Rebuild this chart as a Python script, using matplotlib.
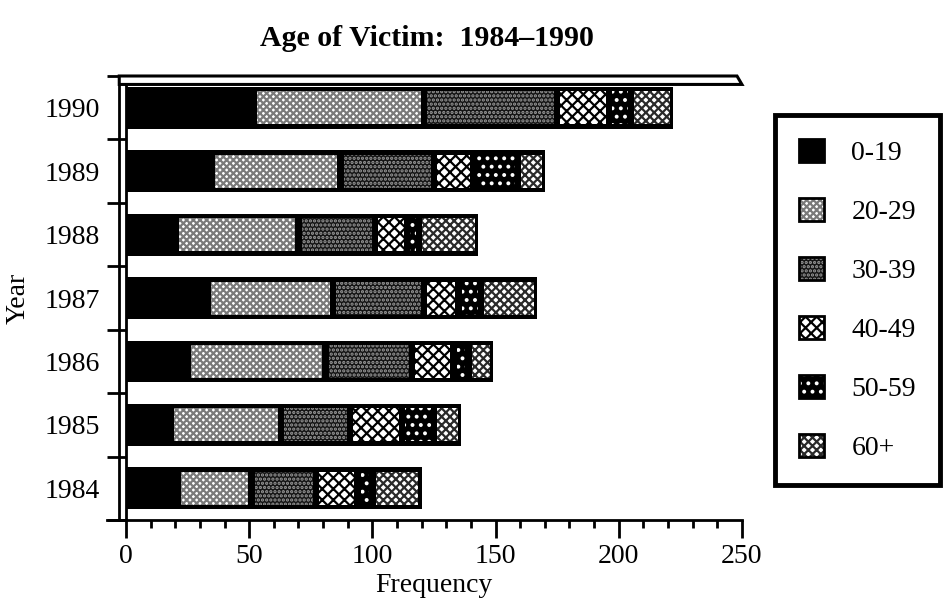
import numpy as np
import matplotlib.pyplot as plt
from matplotlib.patches import Patch, Polygon
from matplotlib.ticker import MultipleLocator

plt.rcParams['font.family'] = ['Liberation Serif', 'DejaVu Serif']
plt.rcParams['hatch.linewidth'] = 1.6

# --- data ---
years = ['1984', '1985', '1986', '1987', '1988', '1989', '1990']
age_groups = ['0-19', '20-29', '30-39', '40-49', '50-59', '60+']
age_0_19 = [21, 18, 25, 33, 20, 35, 52]
age_20_29 = [30, 45, 56, 51, 50, 52, 69]
age_30_39 = [26, 28, 35, 37, 31, 38, 54]
age_40_49 = [17, 21, 17, 14, 13, 16, 21]
age_50_59 = [6, 13, 6, 9, 5, 18, 9]
age_60_plus = [20, 11, 10, 23, 24, 11, 17]
counts = [age_0_19, age_20_29, age_30_39, age_40_49, age_50_59, age_60_plus]

# face colour, hatch colour, hatch pattern
styles = {
    '0-19': ('black', 'black', None),
    '20-29': ('white', '#7a7a7a', 'xxxxx'),
    '30-39': ('#151515', '#9a9a9a', '....'),
    '40-49': ('white', 'black', 'xxx'),
    '50-59': ('black', 'white', '..'),
    '60+': ('white', '#2a2a2a', 'xxxx'),
}

fig = plt.figure(figsize=(9.49, 6.08), dpi=100)
ax = fig.add_axes([0.1328, 0.1447, 0.649, 0.7303])

y = np.arange(len(years))
bar_h = 0.66
inset = 1.3     # black border around each patterned block (x units)
vinset = 0.07   # same, in y units

totals = np.sum(np.array(counts), axis=0)
ax.barh(y, totals, height=bar_h, color='black', zorder=2)

left = np.zeros(len(years))
for name, vals in zip(age_groups, counts):
    vals = np.array(vals, dtype=float)
    fc, hc, hatch = styles[name]
    if hatch is not None:
        ax.barh(y, vals - 2 * inset, left=left + inset, height=bar_h - 2 * vinset,
                color=fc, edgecolor=hc, linewidth=0, hatch=hatch, zorder=3)
    left += vals

ax.set_xlim(0, 250)
ax.set_ylim(-0.5, 6.5)

# axes styling: double left line, ribbon along the top
ax.spines['right'].set_visible(False)
ax.spines['top'].set_visible(False)
ax.spines['left'].set_linewidth(2)
ax.spines['bottom'].set_linewidth(2)
ax.plot([-0.011, -0.011], [0, 1], color='black', lw=2, transform=ax.transAxes, clip_on=False)
ax.plot([-0.031, 0], [0, 0], color='black', lw=2, transform=ax.transAxes, clip_on=False)
ribbon = Polygon([(-0.011, 1.0), (0.992, 1.0), (1.0, 0.981), (-0.011, 0.981)],
                 closed=True, facecolor='white', edgecolor='black', lw=2.2,
                 transform=ax.transAxes, clip_on=False, zorder=4)
ax.add_patch(ribbon)

ax.set_yticks(y)
ax.set_yticklabels(years)
ax.set_yticks(np.arange(-0.5, 6.6, 1.0), minor=True)
ax.tick_params(axis='y', which='major', length=0, pad=19, labelsize=20)
ax.tick_params(axis='y', which='minor', length=13.5, width=2, direction='out')

ax.set_xticks(np.arange(0, 251, 50))
ax.xaxis.set_minor_locator(MultipleLocator(10))
ax.tick_params(axis='x', which='major', length=13, width=2, labelsize=20, pad=4)
ax.tick_params(axis='x', which='minor', length=6, width=2)

ax.set_xlabel('Frequency', fontsize=20, labelpad=3)
ax.set_ylabel('Year', fontsize=20, labelpad=10)

fig.text(0.45, 1 - 38 / 608, 'Age of Victim:  1984\u20131990', fontsize=21.5,
         fontweight='bold', ha='center', va='center')

# legend
handles = []
for name in age_groups:
    fc, hc, hatch = styles[name]
    filled = Patch(facecolor=fc, edgecolor=hc, hatch=hatch, linewidth=0)
    border = Patch(facecolor='none', edgecolor='black', linewidth=2)
    handles.append((filled, border))
leg = fig.legend(handles, age_groups, loc='upper left',
                 bbox_to_anchor=(775 / 949, 1 - 115 / 608), borderaxespad=0,
                 fontsize=20, handlelength=0.9, handleheight=0.9, handletextpad=1.0,
                 labelspacing=1.15, borderpad=0.85, fancybox=False, framealpha=1)
leg.get_frame().set_edgecolor('black')
leg.get_frame().set_linewidth(3.5)

fig.savefig('out.png', dpi=100)
